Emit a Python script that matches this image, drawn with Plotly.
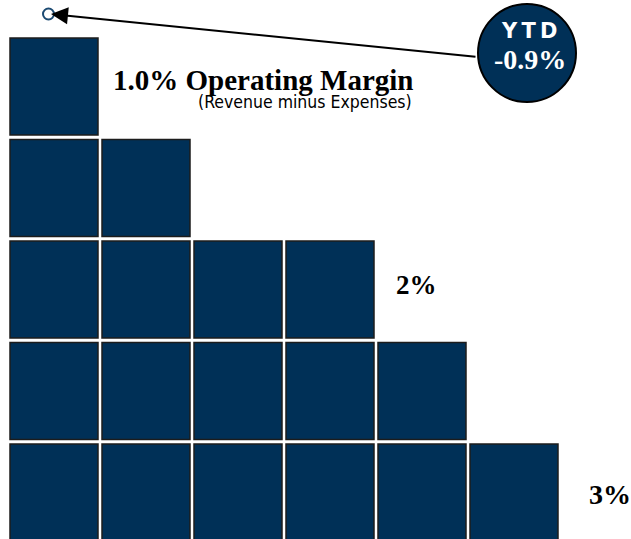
import plotly.graph_objects as go

# ---- data ----
ROW_COUNTS = [6, 5, 4, 2, 1]          # squares per row, bottom row -> top row
ROW_LABELS = ["3%", "", "2%", "", "1.0% Operating Margin"]
SUBTITLE = "(Revenue minus Expenses)"
YTD_LABEL = "Y\u2009T\u2009D"
YTD_VALUE = "-0.9%"

NAVY = "#003057"
W, H = 631, 539

# pixel <-> data helpers (one data unit = one square pitch)
X0_PX, X_PITCH = 10, 92
Y0_PX, Y_PITCH = 541, 101.5
SQ_W = 88 / X_PITCH
SQ_H = 97 / Y_PITCH


def px2x(px):
    return (px - X0_PX) / X_PITCH


def px2y(py):
    return (Y0_PX - py) / Y_PITCH


fig = go.Figure()

for row, n in enumerate(ROW_COUNTS):
    for col in range(n):
        fig.add_shape(
            type="rect", xref="x", yref="y",
            x0=col, x1=col + SQ_W, y0=row, y1=row + SQ_H,
            fillcolor=NAVY, line=dict(color="#1c1c1c", width=1.5), layer="below",
        )

# small target circle
fig.add_trace(go.Scatter(
    x=[px2x(48.5)], y=[px2y(14)], mode="markers",
    marker=dict(symbol="circle-open", size=11, color="#1b4a72", line=dict(width=2, color="#1b4a72")),
    hoverinfo="skip", showlegend=False,
))

# YTD bubble
fig.add_trace(go.Scatter(
    x=[px2x(527)], y=[px2y(53)], mode="markers",
    marker=dict(symbol="circle", size=98, color=NAVY, line=dict(width=2, color="black")),
    hoverinfo="skip", showlegend=False,
))

ann = []
# arrow
ann.append(dict(
    x=px2x(51), y=px2y(14), ax=px2x(477), ay=px2y(57), axref="x", ayref="y",
    xref="x", yref="y", text="", showarrow=True, arrowhead=2, arrowsize=1.7,
    arrowwidth=2, arrowcolor="black", standoff=0,
))

label_pos = {0: (588, 494, 28), 2: (395, 284.5, 27), 4: (112, 80, 29)}
for row, lab in enumerate(ROW_LABELS):
    if not lab:
        continue
    px, py, fs = label_pos[row]
    ann.append(dict(
        x=px2x(px), y=px2y(py), xref="x", yref="y", text="<b>%s</b>" % lab,
        showarrow=False, xanchor="left", yanchor="middle", borderpad=0,
        font=dict(family="Liberation Serif, serif", size=fs, color="black"),
    ))

ann.append(dict(
    x=px2x(197), y=px2y(101.5), xref="x", yref="y", text=SUBTITLE,
    showarrow=False, xanchor="left", yanchor="middle", borderpad=0,
    font=dict(family="DejaVu Sans Condensed, Liberation Sans Narrow, sans-serif",
              size=17.5, color="black"),
))

ann.append(dict(
    x=px2x(529), y=px2y(30.5), xref="x", yref="y", text="<b>%s</b>" % YTD_LABEL,
    showarrow=False, xanchor="center", yanchor="middle", borderpad=0,
    font=dict(family="DejaVu Sans, sans-serif", size=21, color="white"),
))
ann.append(dict(
    x=px2x(530), y=px2y(59), xref="x", yref="y", text="<b>%s</b>" % YTD_VALUE,
    showarrow=False, xanchor="center", yanchor="middle", borderpad=0,
    font=dict(family="Liberation Serif, serif", size=28, color="white"),
))

fig.update_layout(
    width=W, height=H, margin=dict(l=0, r=0, t=0, b=0),
    paper_bgcolor="white", plot_bgcolor="white",
    xaxis=dict(range=[px2x(0), px2x(W)], visible=False, fixedrange=True),
    yaxis=dict(range=[px2y(H), px2y(0)], visible=False, fixedrange=True),
    annotations=ann, showlegend=False,
)

fig.write_html("out.html", config={"displayModeBar": False},
               post_script="document.body.style.margin='0';")
